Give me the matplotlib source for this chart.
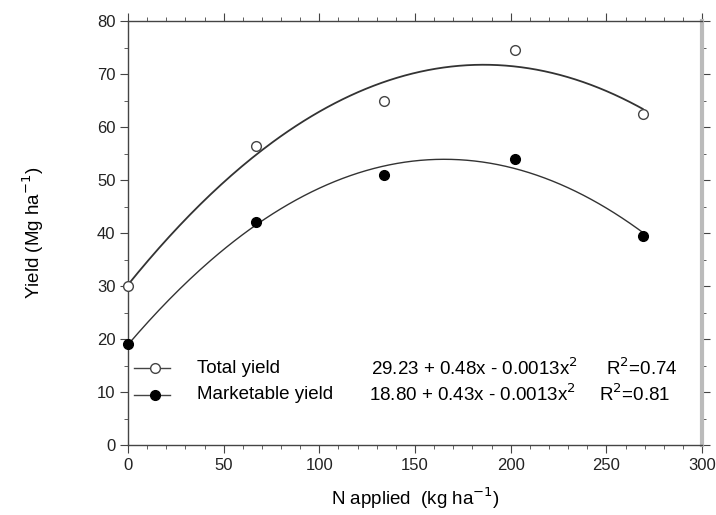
import numpy as np
import matplotlib.pyplot as plt
from matplotlib.ticker import MultipleLocator

plt.rcParams['font.family'] = ['Liberation Sans', 'DejaVu Sans']

n_rate = [0, 67, 134, 202, 269]
total_yield = [30.0, 56.5, 65.0, 74.5, 62.5]
market_yield = [19.0, 42.0, 51.0, 54.0, 39.5]

eq_total = '29.23 + 0.48x - 0.0013x$^2$'
eq_market = '18.80 + 0.43x - 0.0013x$^2$'
r2_total = 'R$^2$=0.74'
r2_market = 'R$^2$=0.81'

fig = plt.figure(figsize=(7.16, 5.15), dpi=100)
ax = fig.add_axes([0.1788, 0.1359, 0.8017, 0.823])

xs = np.linspace(0, 269, 200)
# quadratic fits through the points
p_tot = np.polyfit(n_rate, total_yield, 2)
p_mk = np.polyfit(n_rate, market_yield, 2)
ax.plot(xs, np.polyval(p_tot, xs), color='#333333', lw=1.3)
ax.plot(xs, np.polyval(p_mk, xs), color='#333333', lw=1.0)

ax.plot(n_rate, total_yield, 'o', mfc='white', mec='#444444', ms=7, mew=1.0, clip_on=False, zorder=5)
ax.plot(n_rate, market_yield, 'o', mfc='black', mec='black', ms=7, clip_on=False, zorder=5)

ax.set_xlim(0, 300)
ax.set_ylim(0, 80)
ax.xaxis.set_major_locator(MultipleLocator(50))
ax.xaxis.set_minor_locator(MultipleLocator(10))
ax.yaxis.set_major_locator(MultipleLocator(10))
ax.yaxis.set_minor_locator(MultipleLocator(5))
ax.tick_params(which='both', top=True, right=True, direction='out', colors='#444444',
               labelcolor='#222222', labelsize=12)
ax.tick_params(which='major', length=5.5)
ax.tick_params(which='minor', length=3)
for s in ax.spines.values():
    s.set_color('#444444')
    s.set_linewidth(1.0)
ax.spines['right'].set_color('#bbbbbb')
ax.spines['right'].set_linewidth(3)

ax.set_xlabel('N applied  (kg ha$^{-1}$)', fontsize=13.5, labelpad=9)
ax.set_ylabel('Yield (Mg ha$^{-1}$)', fontsize=13.5, labelpad=37)

# legend drawn by hand to keep the equation columns
ax.plot([3, 22], [14.5, 14.5], color='#444444', lw=1.0)
ax.plot([14], [14.5], 'o', mfc='white', mec='#444444', ms=7)
ax.plot([3, 22], [9.5, 9.5], color='#444444', lw=1.0)
ax.plot([14], [9.5], 'o', mfc='black', mec='black', ms=7)
ax.text(36, 14.5, 'Total yield', fontsize=13.5, va='center')
ax.text(36, 9.5, 'Marketable yield', fontsize=13.5, va='center')
ax.text(127, 14.5, eq_total, fontsize=13.5, va='center')
ax.text(126, 9.5, eq_market, fontsize=13.5, va='center')
ax.text(250, 14.5, r2_total, fontsize=13.5, va='center')
ax.text(246, 9.5, r2_market, fontsize=13.5, va='center')

fig.savefig('out.png', dpi=100)
